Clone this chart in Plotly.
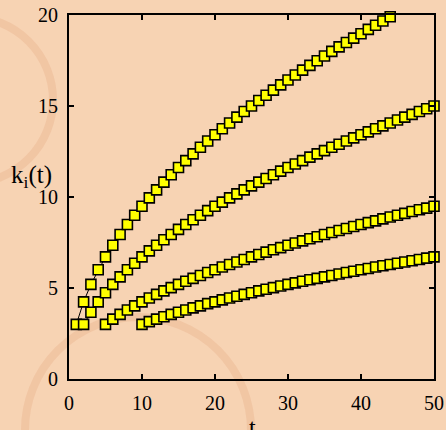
import plotly.graph_objects as go

# node arrival times t_i
t_start = [1, 2, 5, 10]

k_node1 = [3.00, 4.24, 5.20, 6.00, 6.71, 7.35, 7.94, 8.49, 9.00, 9.49,
           9.95, 10.39, 10.82, 11.22, 11.62, 12.00, 12.37, 12.73, 13.08, 13.42,
           13.75, 14.07, 14.39, 14.70, 15.00, 15.30, 15.59, 15.87, 16.16, 16.43,
           16.70, 16.97, 17.23, 17.49, 17.75, 18.00, 18.25, 18.49, 18.73, 18.97,
           19.21, 19.44, 19.67, 19.90]

k_node2 = [3.00, 3.67, 4.24, 4.74, 5.20, 5.61, 6.00, 6.36, 6.71, 7.04,
           7.35, 7.65, 7.94, 8.22, 8.49, 8.75, 9.00, 9.25, 9.49, 9.72,
           9.95, 10.17, 10.39, 10.61, 10.82, 11.02, 11.22, 11.42, 11.62, 11.81,
           12.00, 12.19, 12.37, 12.55, 12.73, 12.90, 13.08, 13.25, 13.42, 13.58,
           13.75, 13.91, 14.07, 14.23, 14.39, 14.54, 14.70, 14.85, 15.00]

k_node3 = [3.00, 3.29, 3.55, 3.79, 4.02, 4.24, 4.45, 4.65, 4.84, 5.02,
           5.20, 5.37, 5.53, 5.69, 5.85, 6.00, 6.15, 6.29, 6.43, 6.57,
           6.71, 6.84, 6.97, 7.10, 7.22, 7.35, 7.47, 7.59, 7.71, 7.82,
           7.94, 8.05, 8.16, 8.27, 8.38, 8.49, 8.59, 8.69, 8.80, 8.90,
           9.00, 9.10, 9.20, 9.30, 9.39, 9.49]

k_node4 = [3.00, 3.15, 3.29, 3.42, 3.55, 3.67, 3.79, 3.91, 4.02, 4.14,
           4.24, 4.35, 4.45, 4.55, 4.65, 4.74, 4.84, 4.93, 5.02, 5.11,
           5.20, 5.28, 5.37, 5.45, 5.53, 5.61, 5.69, 5.77, 5.85, 5.92,
           6.00, 6.07, 6.15, 6.22, 6.29, 6.36, 6.43, 6.50, 6.57, 6.64,
           6.71]

x_ticks = [0, 10, 20, 30, 40, 50]
y_ticks = [0, 5, 10, 15, 20]

series = [k_node1, k_node2, k_node3, k_node4]

fig = go.Figure()
for ts, ks in zip(t_start, series):
    ts_list = list(range(ts, ts + len(ks)))
    fig.add_trace(go.Scatter(
        x=ts_list, y=ks, mode="lines+markers",
        line=dict(color="black", width=1),
        marker=dict(symbol="square", size=10, color="#FFFF00",
                    line=dict(color="black", width=1.6)),
        cliponaxis=False, showlegend=False, hoverinfo="x+y"))

W, H = 446, 430
L, R, T, B = 69, 12, 15, 51
pw, ph = W - L - R, H - T - B


def px(x):
    return (x - L) / pw


def py(y):
    return (H - B - y) / ph


ring = "rgba(214,140,95,0.18)"
shapes = [
    dict(type="circle", xref="paper", yref="paper", layer="below",
         x0=px(-30 - 83), x1=px(-30 + 83), y0=py(100 + 83), y1=py(100 - 83),
         line=dict(color=ring, width=8)),
    dict(type="circle", xref="paper", yref="paper", layer="below",
         x0=px(138 - 113), x1=px(138 + 113), y0=py(430 + 113), y1=py(430 - 113),
         line=dict(color=ring, width=8)),
]

axis_common = dict(showgrid=False, zeroline=False, showline=True,
                   linecolor="black", linewidth=2, mirror="ticks",
                   ticks="inside", ticklen=5, tickwidth=1.5, tickcolor="black",
                   automargin=False,
                   tickfont=dict(family="Liberation Serif", size=20, color="black"))

fig.update_xaxes(range=[0, 50], tickvals=x_ticks, ticklabelstandoff=5, **axis_common)
fig.update_yaxes(range=[0, 20], tickvals=y_ticks, ticklabelstandoff=5, **axis_common)

fig.update_layout(
    width=W, height=H,
    margin=dict(l=L, r=R, t=T, b=B, autoexpand=False),
    paper_bgcolor="#F7D3B3",
    plot_bgcolor="rgba(0,0,0,0)",
    shapes=shapes,
    annotations=[
        dict(text="k<sub>i</sub>(t)", xref="paper", yref="paper",
             x=px(31), y=py(176), xanchor="center", yanchor="middle",
             showarrow=False,
             font=dict(family="Liberation Serif", size=25, color="black")),
        dict(text="t", xref="paper", yref="paper",
             x=px(252), y=py(412), xanchor="center", yanchor="top",
             showarrow=False,
             font=dict(family="Liberation Serif", size=24, color="black")),
    ],
)

fig.write_html("out.html",
               config={"displayModeBar": False},
               post_script="document.body.style.margin='0';"
                           "document.body.style.overflow='hidden';"
                           "document.body.style.background='#F7D3B3';")
